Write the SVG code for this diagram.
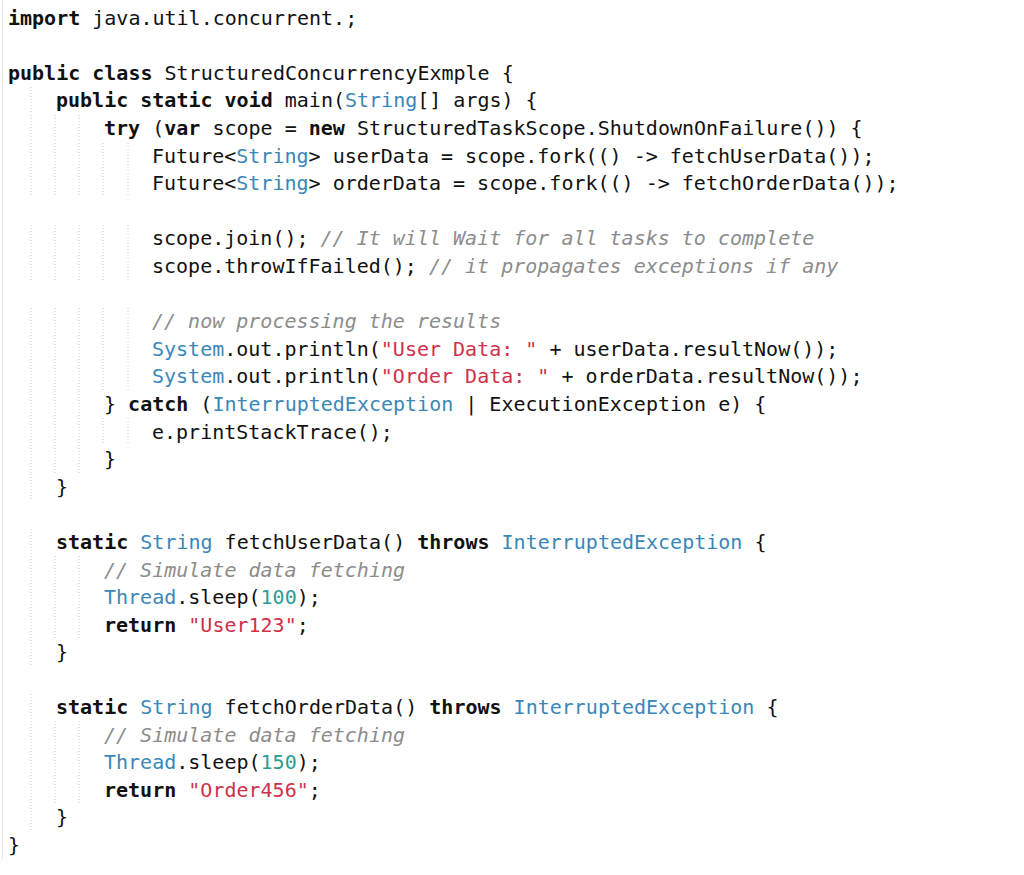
<svg xmlns="http://www.w3.org/2000/svg" width="1024" height="875" viewBox="0 0 1024 875">
<style>
text{font-family:"DejaVu Sans Mono","Liberation Mono",monospace;font-size:20px;fill:#111;white-space:pre}
.k{font-weight:bold}
.t{fill:#3a87b8}
.s{fill:#d0304a}
.n{fill:#2a9d90}
.c{fill:#8c8c8c;font-style:italic}
.g line{stroke:#c8c8c8;stroke-width:1;stroke-dasharray:1 2}
</style>
<rect width="1024" height="875" fill="#fff"/>
<line x1="2.5" y1="0" x2="2.5" y2="860" stroke="#e6e6e6"/>
<g class="g">
<line x1="31" y1="87" x2="31" y2="114"/>
<line x1="31" y1="115" x2="31" y2="142"/><line x1="55" y1="115" x2="55" y2="142"/><line x1="79" y1="115" x2="79" y2="142"/>
<g id="g12a"><line x1="31" y1="143" x2="31" y2="197"/><line x1="55" y1="143" x2="55" y2="197"/><line x1="79" y1="143" x2="79" y2="197"/><line x1="103" y1="143" x2="103" y2="197"/><line x1="128" y1="143" x2="128" y2="197"/></g>
<line x1="31" y1="225" x2="31" y2="280"/><line x1="55" y1="225" x2="55" y2="280"/><line x1="79" y1="225" x2="79" y2="280"/><line x1="103" y1="225" x2="103" y2="280"/><line x1="128" y1="225" x2="128" y2="280"/>
<line x1="31" y1="308" x2="31" y2="390"/><line x1="55" y1="308" x2="55" y2="390"/><line x1="79" y1="308" x2="79" y2="390"/><line x1="103" y1="308" x2="103" y2="390"/><line x1="128" y1="308" x2="128" y2="390"/>
<line x1="31" y1="391" x2="31" y2="473"/><line x1="55" y1="391" x2="55" y2="473"/><line x1="79" y1="391" x2="79" y2="473"/>
<line x1="103" y1="418" x2="103" y2="445"/><line x1="128" y1="418" x2="128" y2="445"/>
<line x1="31" y1="474" x2="31" y2="500"/>
<line x1="31" y1="529" x2="31" y2="666"/><line x1="55" y1="556" x2="55" y2="638"/><line x1="79" y1="556" x2="79" y2="638"/>
<line x1="31" y1="694" x2="31" y2="831"/><line x1="55" y1="721" x2="55" y2="803"/><line x1="79" y1="721" x2="79" y2="803"/>
</g>
<g id="code">
<text x="8" y="25"><tspan class="k">import</tspan> java.util.concurrent.;</text>
<text x="8" y="80"><tspan class="k">public class</tspan> StructuredConcurrencyExmple {</text>
<text x="56" y="107"><tspan class="k">public static void</tspan> main(<tspan class="t">String</tspan>[] args) {</text>
<text x="104" y="135"><tspan class="k">try</tspan> (<tspan class="k">var</tspan> scope = <tspan class="k">new</tspan> StructuredTaskScope.ShutdownOnFailure()) {</text>
<text x="152" y="163">Future&lt;<tspan class="t">String</tspan>&gt; userData = scope.fork(() -&gt; fetchUserData());</text>
<text x="152" y="190">Future&lt;<tspan class="t">String</tspan>&gt; orderData = scope.fork(() -&gt; fetchOrderData());</text>
<text x="152" y="245">scope.join(); <tspan class="c">// It will Wait for all tasks to complete</tspan></text>
<text x="152" y="273">scope.throwIfFailed(); <tspan class="c">// it propagates exceptions if any</tspan></text>
<text x="152" y="328" class="c">// now processing the results</text>
<text x="152" y="356"><tspan class="t">System</tspan>.out.println(<tspan class="s">"User Data: "</tspan> + userData.resultNow());</text>
<text x="152" y="383"><tspan class="t">System</tspan>.out.println(<tspan class="s">"Order Data: "</tspan> + orderData.resultNow());</text>
<text x="104" y="411">} <tspan class="k">catch</tspan> (<tspan class="t">InterruptedException</tspan> | ExecutionException e) {</text>
<text x="152" y="439">e.printStackTrace();</text>
<text x="104" y="466">}</text>
<text x="56" y="494">}</text>
<text x="56" y="549"><tspan class="k">static</tspan> <tspan class="t">String</tspan> fetchUserData() <tspan class="k">throws</tspan> <tspan class="t">InterruptedException</tspan> {</text>
<text x="104" y="577" class="c">// Simulate data fetching</text>
<text x="104" y="604"><tspan class="t">Thread</tspan>.sleep(<tspan class="n">100</tspan>);</text>
<text x="104" y="632"><tspan class="k">return</tspan> <tspan class="s">"User123"</tspan>;</text>
<text x="56" y="659">}</text>
<text x="56" y="714"><tspan class="k">static</tspan> <tspan class="t">String</tspan> fetchOrderData() <tspan class="k">throws</tspan> <tspan class="t">InterruptedException</tspan> {</text>
<text x="104" y="742" class="c">// Simulate data fetching</text>
<text x="104" y="769"><tspan class="t">Thread</tspan>.sleep(<tspan class="n">150</tspan>);</text>
<text x="104" y="797"><tspan class="k">return</tspan> <tspan class="s">"Order456"</tspan>;</text>
<text x="56" y="824">}</text>
<text x="8" y="852">}</text>
</g>
</svg>
